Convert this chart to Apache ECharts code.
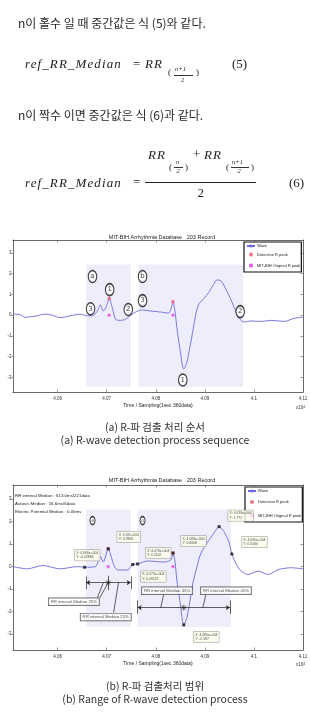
<!DOCTYPE html>
<html>
<head>
<meta charset="utf-8">
<script src="https://cdn.jsdelivr.net/npm/echarts@6/dist/echarts.min.js"></script>
<style>
html, body { margin: 0; padding: 0; background: #fff; }
#page { position: relative; width: 310px; height: 716px; overflow: hidden; }
#main { position: absolute; left: 0; top: 0; width: 310px; height: 716px; }
.t { position: absolute; white-space: nowrap; line-height: 1; color: #1c1c1c; }
.ko { font-family: 'Noto Sans CJK KR', 'DejaVu Serif', serif; font-size: 12px; font-weight: 400; color: #2a2a2a; }
.m { font-family: 'Liberation Serif', serif; font-style: italic; font-size: 13px; letter-spacing: 1.1px; }
.u { font-family: 'Liberation Serif', serif; font-size: 13px; }
.s { font-family: 'Liberation Serif', serif; font-style: italic; font-size: 6.5px; }
.p { font-family: 'Liberation Serif', serif; font-size: 9px; }
.cap { font-family: 'Noto Sans CJK KR', sans-serif; font-size: 10.5px; color: #333; left: 0; width: 310px; text-align: center; }
.bar { position: absolute; height: 0; border-top: 1px solid #222; }
.sbar { position: absolute; height: 0; border-top: 0.6px solid #333; }
</style>
</head>
<body>
<div id="page">
  <div id="main"></div>

  <!-- 본문 텍스트 -->
  <div class="t ko" style="left:18px; top:17px;">n이 홀수 일 때 중간값은 식 (5)와 같다.</div>

  <div class="t m" style="left:25px; top:57px;">ref_RR_Median</div>
  <div class="t u" style="left:133px; top:56.5px;">=</div>
  <div class="t m" style="left:145px; top:57px;">RR</div>
  <div class="t p" style="left:168px; top:68px;">(</div>
  <div class="t s" style="left:175px; top:65.5px;">n+1</div>
  <div class="sbar" style="left:174px; top:74.5px; width:19px;"></div>
  <div class="t s" style="left:181px; top:76.5px;">2</div>
  <div class="t p" style="left:196px; top:68px;">)</div>
  <div class="t u" style="left:232px; top:57px;">(5)</div>

  <div class="t ko" style="left:18px; top:109px;">n이 짝수 이면 중간값은 식 (6)과 같다.</div>

  <div class="t m" style="left:25px; top:175.5px;">ref_RR_Median</div>
  <div class="t u" style="left:133px; top:175px;">=</div>
  <div class="t m" style="left:148px; top:147.5px;">RR</div>
  <div class="t p" style="left:169px; top:162.5px;">(</div>
  <div class="t s" style="left:176px; top:159px;">n</div>
  <div class="sbar" style="left:174px; top:167px; width:9px;"></div>
  <div class="t s" style="left:176.5px; top:168px;">2</div>
  <div class="t p" style="left:185px; top:162.5px;">)</div>
  <div class="t u" style="left:193px; top:147px;">+</div>
  <div class="t m" style="left:204px; top:147.5px;">RR</div>
  <div class="t p" style="left:226px; top:162.5px;">(</div>
  <div class="t s" style="left:232px; top:159px;">n+1</div>
  <div class="sbar" style="left:231px; top:167px; width:18px;"></div>
  <div class="t s" style="left:237.5px; top:168px;">2</div>
  <div class="t p" style="left:251px; top:162.5px;">)</div>
  <div class="bar" style="left:145px; top:182px; width:111px;"></div>
  <div class="t u" style="left:197.5px; top:185.5px;">2</div>
  <div class="t u" style="left:289px; top:176px;">(6)</div>

  <!-- 그림 캡션 -->
  <div class="t cap" style="top:421.5px;">(a) R-파 검출 처리 순서</div>
  <div class="t cap" style="top:434.5px;">(a) R-wave detection process sequence</div>
  <div class="t cap" style="top:680.5px;">(b) R-파 검출처리 범위</div>
  <div class="t cap" style="top:693.5px;">(b) Range of R-wave detection process</div>
</div>

<script>
// 축 눈금
const xTickValues = [40600, 40700, 40800, 40900, 41000, 41100];
const xTickLabels = ['4.06', '4.07', '4.08', '4.09', '4.1', '4.11'];
const yTickValues = [-3, -2, -1, 0, 1, 2, 3];

// (a) 파형 (샘플 번호, mV)
const waveA_x = [40509, 40523, 40533, 40554, 40574, 40589, 40605, 40626, 40646, 40658, 40671, 40681, 40687, 40693, 40699, 40705, 40712, 40718, 40728, 40738, 40749, 40759, 40771, 40790, 40810, 40826, 40831, 40835, 40839, 40843, 40849, 40857, 40863, 40869, 40876, 40882, 40888, 40898, 40908, 40917, 40925, 40933, 40943, 40953, 40961, 40970, 40980, 40994, 41015, 41035, 41062, 41082, 41100];
const waveA_y = [0.05, 0.03, -0.1, -0.05, 0.05, 0.0, -0.12, -0.03, 0.05, -0.02, -0.03, 0.2, 0.5, 0.2, 0.4, 0.8, 0.3, -0.2, -0.25, -0.2, 0.0, 0.15, 0.25, 0.2, 0.15, 0.1, 0.3, 0.65, 0.2, -0.6, -1.6, -2.6, -2.3, -1.6, -0.7, 0.1, 0.55, 0.8, 1.1, 1.45, 1.7, 1.65, 1.25, 0.75, 0.3, -0.15, -0.33, -0.28, -0.3, -0.25, -0.3, -0.15, -0.1];

// (b) 파형
const waveB_x = [40509, 40538, 40570, 40605, 40640, 40656, 40677, 40687, 40693, 40703, 40714, 40722, 40742, 40753, 40763, 40783, 40816, 40831, 40835, 40839, 40843, 40849, 40857, 40863, 40869, 40876, 40884, 40892, 40906, 40919, 40929, 40939, 40949, 40955, 40964, 40974, 40988, 41009, 41029, 41050, 41076, 41100];
const waveB_y = [0.0, -0.1, 0.05, -0.1, 0.0, -0.03, 0.0, 0.45, 0.2, 0.79, 0.1, -0.15, -0.15, 0.09, 0.12, 0.25, 0.2, 0.3, 0.6, 0.25, -0.6, -1.5, -2.58, -2.3, -1.6, -0.7, 0.0, 0.6, 1.1, 1.5, 1.77, 1.55, 1.1, 0.56, 0.1, -0.2, -0.35, -0.2, -0.35, -0.13, -0.05, -0.1];

// R 피크
const detectA = [[40705, 0.8], [40835, 0.65]];
const origA = [[40705, 0], [40835, 0]];
const detectB = [[40703, 0.79], [40835, 0.6]];
const origB = [[40703, 0], [40835, 0]];

// 검출 구간 [x1, x2, y위, y아래]
const regionsA = [[40658, 40749, 2.44, -3.45], [40765, 40978, 2.44, -3.45]];
const regionsB = [[40658, 40749, 2.53, -2.67], [40763, 40953, 2.53, -2.67]];

// 원 번호 주석
const annoA = [[40671, 1.86], [40706, 1.23], [40667, 0.31], [40744, 0.27], [40773, 1.86], [40773, 0.70], [40972, 0.17], [40855, -3.12]];
const annoA_text = ['a', '1', '3', '2', 'b', '3', '2', '1'];
const annoB = [[40671, 2.04], [40773, 2.04]];
const annoB_text = ['a', 'b'];

// 데이터 팁 (b)
const tipsB = [[40655, -0.02863], [40703, 0.7866], [40763, 0.1152], [40753, 0.09122], [40835, 0.6008], [40929, 1.772], [40955, 0.5584], [40857, -2.587]];
const tipOffsets = [[-10, -12], [9, -12], [8, -11], [8, 12], [8, -12], [9, -11], [10, -12], [10, 12]];

// RR 구간 화살표 / 메모 (b)
const arrowsB = [[[40658, -0.71], [40749, -0.71]], [[40763, -1.82], [40951, -1.82]]];
const leadersB = [
  [[40681, -1.38], [40693, -0.71]],
  [[40686, -1.38], [40703, -0.71]],
  [[40714, -2.04], [40724, -0.71]],
  [[40816, -1.24], [40810, -1.82]],
  [[40902, -1.24], [40896, -1.82]],
  [[40658, -0.44], [40658, -1.0]],
  [[40749, -0.44], [40749, -1.0]],
  [[40703, -0.4], [40703, -1.05]],
  [[40763, -1.5], [40763, -2.1]],
  [[40951, -1.5], [40951, -2.1]]
];
const starsB = [[40703, -0.71], [40857, -1.82]];
const notesB = [[40633, -1.56], [40698, -2.24], [40823, -1.07], [40943, -1.07]];
const notesB_text = ['RR interval Median 25%', 'RR interval Median 25%', 'RR interval Median 45%', 'RR interval Median 45%'];
const infoB = ['RR interval Median : 613.0ms/221data', 'Autosis Median : 16.6ms/6data', 'Electric Potential Median : 0.05mv'];

const FONT = "'Liberation Sans Narrow', 'Liberation Sans', sans-serif";
const WAVE = '#6a6ade';
const zip = (xs, ys) => xs.map((x, i) => [x, ys[i]]);

const grids = [
  {left: 13, top: 240, width: 290, height: 152, containLabel: false, outerBoundsMode: 'none'},
  {left: 13, top: 485, width: 290, height: 165, containLabel: false, outerBoundsMode: 'none'}
];

let xAxes = [];
let yAxes = [];
grids.forEach((g, i) => {
    xAxes.push({
        type: 'value', gridIndex: i, position: 'bottom', min: 40509, max: 41100,
        name: 'Time / Sampling(1sec 360data)', nameLocation: 'middle', nameGap: 11,
        nameTextStyle: {fontSize: 5, color: '#222', fontFamily: FONT},
        axisLine: {show: true, onZero: false, lineStyle: {color: '#444', width: 0.8}},
        axisTick: {show: true, inside: true, length: 2.5, customValues: xTickValues, lineStyle: {color: '#555', width: 0.6}},
        axisLabel: {fontSize: 4.5, color: '#333', margin: 4, fontFamily: FONT, customValues: xTickValues,
            formatter: v => xTickLabels[xTickValues.indexOf(v)]},
        splitLine: {show: false}
    });
    xAxes.push({
        type: 'value', gridIndex: i, position: 'top', min: 40509, max: 41100,
        axisLine: {show: true, onZero: false, lineStyle: {color: '#444', width: 0.8}},
        axisTick: {show: true, inside: true, length: 2.5, customValues: xTickValues, lineStyle: {color: '#555', width: 0.6}},
        axisLabel: {show: false},
        splitLine: {show: false}
    });
    yAxes.push({
        type: 'value', gridIndex: i, position: 'left', min: -3.7, max: 3.62,
        name: 'Amplitude / mV', nameLocation: 'middle', nameGap: 6, nameRotate: 90,
        nameTextStyle: {fontSize: 5.5, color: '#222', fontWeight: 'bold', fontFamily: FONT},
        axisLine: {show: true, onZero: false, lineStyle: {color: '#444', width: 0.8}},
        axisTick: {show: true, inside: false, length: 1.5, customValues: yTickValues, lineStyle: {color: '#555', width: 0.6}},
        axisLabel: {fontSize: 4.5, color: '#333', margin: 1.5, fontFamily: FONT, customValues: yTickValues},
        splitLine: {show: false}
    });
    yAxes.push({
        type: 'value', gridIndex: i, position: 'right', min: -3.7, max: 3.62,
        axisLine: {show: true, onZero: false, lineStyle: {color: '#444', width: 0.8}},
        axisTick: {show: true, inside: true, length: 2.5, customValues: yTickValues, lineStyle: {color: '#555', width: 0.6}},
        axisLabel: {show: false},
        splitLine: {show: false}
    });
});

function baseSeries(i, wave, regions, detect, orig) {
    return [
        {
            name: 'Wave', type: 'line', xAxisIndex: 2 * i, yAxisIndex: 2 * i,
            data: wave, symbol: 'none', smooth: 0.25,
            lineStyle: {color: WAVE, width: 0.9}, itemStyle: {color: WAVE},
            markArea: {
                silent: true,
                itemStyle: {color: '#ededfb'},
                data: regions.map(r => [{coord: [r[0], r[2]]}, {coord: [r[1], r[3]]}])
            },
            z: 3
        },
        {
            name: 'Detection R peak', type: 'scatter', xAxisIndex: 2 * i, yAxisIndex: 2 * i,
            data: detect, symbol: 'circle', symbolSize: 3.5,
            itemStyle: {color: '#f05a78', opacity: 0.85}, z: 4
        },
        {
            name: 'MIT-BIH Original R peak', type: 'scatter', xAxisIndex: 2 * i, yAxisIndex: 2 * i,
            data: orig, symbol: 'path://M5,0L5,10M0,5L10,5M1.5,1.5L8.5,8.5M1.5,8.5L8.5,1.5', symbolSize: 3.5,
            itemStyle: {color: 'none', borderColor: '#e030e0', borderWidth: 0.8}, z: 4
        }
    ];
}

function circleSeries(i, pts, texts, size, fsize, rot) {
    return {
        name: 'anno' + i, type: 'scatter', xAxisIndex: 2 * i, yAxisIndex: 2 * i,
        data: pts, symbol: 'circle', symbolSize: size,
        itemStyle: {color: '#fff', borderColor: '#111', borderWidth: 1.3},
        label: {show: true, position: 'inside', formatter: p => texts[p.dataIndex],
            fontSize: fsize, color: '#111', fontFamily: 'DejaVu Sans', rotate: rot},
        z: 6
    };
}

const fmtX = x => (x / 10000).toFixed(3).replace(/0+$/, '').replace(/\.$/, '') + 'e+004';

let series = [];
series = series.concat(baseSeries(0, zip(waveA_x, waveA_y), regionsA, detectA, origA));
series.push(circleSeries(0, annoA, annoA_text, [8.5, 12], 7, 0));
series = series.concat(baseSeries(1, zip(waveB_x, waveB_y), regionsB, detectB, origB));
series.push(circleSeries(1, annoB, annoB_text, [5, 8], 4.5, 90));

series.push({
    name: 'tips', type: 'scatter', xAxisIndex: 2, yAxisIndex: 2,
    data: tipsB.map((p, i) => ({value: p, label: {offset: tipOffsets[i]}})),
    symbol: 'rect', symbolSize: 3, itemStyle: {color: '#111'},
    label: {
        show: true, position: 'inside', fontSize: 3.4, lineHeight: 4.4, color: '#222', fontFamily: FONT,
        backgroundColor: '#fdfdea', borderColor: '#888', borderWidth: 0.5, padding: [1, 1.5],
        align: 'left', verticalAlign: 'middle',
        formatter: p => 'X: ' + fmtX(p.value[0]) + '\nY: ' + p.value[1]
    },
    z: 8
});

series.push({
    name: 'notes', type: 'scatter', xAxisIndex: 2, yAxisIndex: 2,
    data: notesB, symbolSize: 0,
    label: {
        show: true, position: 'inside', fontSize: 4.3, color: '#222', fontFamily: FONT,
        backgroundColor: '#fff', borderColor: '#333', borderWidth: 0.7, padding: [1.5, 2],
        formatter: p => notesB_text[p.dataIndex]
    },
    markLine: {
        silent: true, animation: false,
        label: {show: false},
        lineStyle: {color: '#222', width: 0.7, type: 'solid'},
        symbolSize: 4,
        data: arrowsB.map(a => [{coord: a[0], symbol: 'arrow'}, {coord: a[1], symbol: 'arrow'}])
            .concat(leadersB.map(a => [{coord: a[0], symbol: 'none'}, {coord: a[1], symbol: 'none'}]))
    },
    z: 7
});

series.push({
    name: 'stars', type: 'scatter', xAxisIndex: 2, yAxisIndex: 2,
    data: starsB, symbol: 'path://M5,0L5,10M0,5L10,5M1.5,1.5L8.5,8.5M1.5,8.5L8.5,1.5', symbolSize: 6,
    itemStyle: {color: 'none', borderColor: '#222', borderWidth: 0.8}, z: 7
});

const legendNames = ['Wave', 'Detection R peak', 'MIT-BIH Original R peak'];
const legendBase = {
    orient: 'vertical', data: legendNames, selectedMode: false,
    backgroundColor: '#fff', borderColor: '#111', borderWidth: 1.2, borderRadius: 0,
    padding: [2, 1, 2, 2], itemWidth: 8, itemHeight: 4, itemGap: 4.5,
    textStyle: {fontSize: 4, color: '#222', fontFamily: FONT, padding: [0, 0, 0, -3]}
};

let container = document.getElementById('main');
let chart = echarts.init(container, null, {renderer: 'canvas'});
chart.setOption({
    animation: false,
    backgroundColor: 'transparent',
    title: [
        {text: 'MIT-BIH Arrhythmia Database   203 Record', left: 157, top: 229, textAlign: 'center',
         textStyle: {fontSize: 5.5, fontWeight: 'normal', color: '#222', fontFamily: FONT}},
        {text: 'MIT-BIH Arrhythmia Database   203 Record', left: 157, top: 472, textAlign: 'center',
         textStyle: {fontSize: 5.5, fontWeight: 'normal', color: '#222', fontFamily: FONT}}
    ],
    legend: [
        Object.assign({}, legendBase, {left: 244, top: 242}),
        Object.assign({}, legendBase, {left: 245, top: 487, itemGap: 7})
    ],
    grid: grids,
    xAxis: xAxes,
    yAxis: yAxes,
    graphic: [
        {type: 'text', left: 296, top: 405, style: {text: 'x10{s|4}', fontSize: 4.5, fill: '#333', fontFamily: FONT,
            rich: {s: {fontSize: 3.5, verticalAlign: 'top', fill: '#333'}}}},
        {type: 'text', left: 296, top: 662, style: {text: 'x10{s|4}', fontSize: 4.5, fill: '#333', fontFamily: FONT,
            rich: {s: {fontSize: 3.5, verticalAlign: 'top', fill: '#333'}}}},
        {type: 'text', left: 15, top: 492, z: 10, style: {text: infoB.join('\n'), fontSize: 4.4, lineHeight: 7.8, fill: '#222', fontFamily: FONT}}
    ],
    series: series
});
</script>
</body>
</html>
